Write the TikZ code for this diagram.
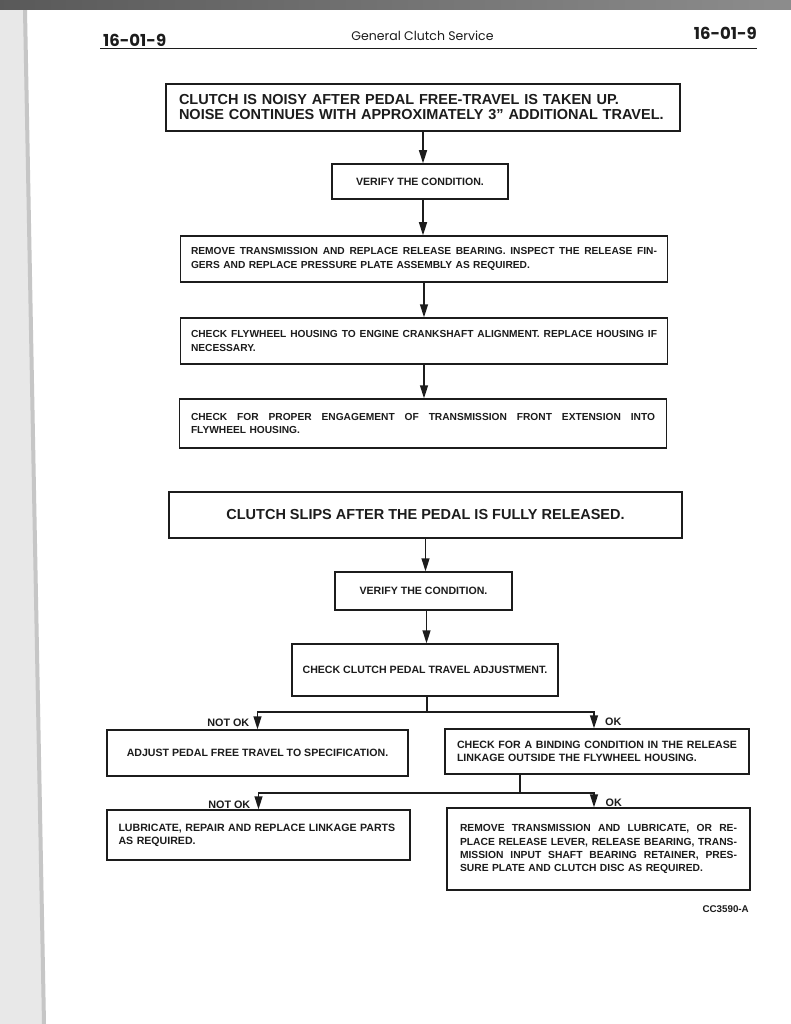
\documentclass[tikz,border=0pt]{standalone}
\usepackage{fontspec}
\setmainfont{Liberation Sans}
\newfontfamily\hdfont{Poppins}
\usetikzlibrary{arrows.meta,calc}
\definecolor{ink}{HTML}{1C1C1C}
\newcommand{\jl}[2]{{\spaceskip=0pt\xspaceskip=0pt\makebox[#1pt][s]{#2}}}
\begin{document}
\begin{tikzpicture}[x=1pt,y=-1pt,
  box/.style={draw=ink, line width=1.5pt, inner sep=0pt, text=ink},
  bigtxt/.style={font=\fontsize{14.5}{15}\selectfont\bfseries},
  smalltxt/.style={font=\fontsize{10.2}{13.2}\selectfont\bfseries},
  midtxt/.style={font=\fontsize{10.6}{13.2}\selectfont\bfseries},
  lbl/.style={font=\fontsize{10.8}{12}\selectfont\bfseries, text=ink, inner sep=0pt},
  conn/.style={draw=ink, line width=1.5pt},
  arr/.style={conn, -{Triangle[length=13pt,width=8pt]}}]
\useasboundingbox (0,0) rectangle (791,1024);
% page surroundings
\fill[white] (0,0) rectangle (791,1024);
\fill[gray!18] (0,0) -- (25,0) -- (45,1024) -- (0,1024) -- cycle;
\draw[gray!45, line width=4pt] (25,10) -- (44,1024);
\shade[left color=black!65, right color=black!45] (0,0) rectangle (791,10);
% header
\node[font=\hdfont\bfseries\fontsize{16.5}{18}\selectfont, anchor=base west, inner sep=0pt, text=ink] (pl) at (103,47) {16-01-9};
\node[font=\hdfont\fontsize{12.5}{14}\selectfont, anchor=base, inner sep=0pt, text=ink] (ttl) at (422.5,41) {General Clutch Service};
\node[font=\hdfont\bfseries\fontsize{16.5}{18}\selectfont, anchor=base east, inner sep=0pt, text=ink] (pr) at (757,40) {16-01-9};
\draw[ink, line width=1.3pt] (100,48.5) -- (757,48.5);
% first chart
\node[box, minimum width=514, minimum height=47, bigtxt, text width=488, align=left] (b1) at (423,107.5)
  {CLUTCH IS NOISY AFTER PEDAL FREE-TRAVEL IS TAKEN UP.\\NOISE CONTINUES WITH APPROXIMATELY 3'' ADDITIONAL TRAVEL.};
\node[box, minimum width=176, minimum height=35, midtxt] (b2) at (420,181.5) {VERIFY THE CONDITION.};
\node[box, minimum width=487, minimum height=46, smalltxt, text width=466, align=left] (b3) at (424,259)
  {\jl{466}{REMOVE TRANSMISSION AND REPLACE RELEASE BEARING. INSPECT THE RELEASE FIN-}\\GERS AND REPLACE PRESSURE PLATE ASSEMBLY AS REQUIRED.};
\node[box, minimum width=487, minimum height=46, smalltxt, text width=466, align=left] (b4) at (424,341)
  {\jl{466}{CHECK FLYWHEEL HOUSING TO ENGINE CRANKSHAFT ALIGNMENT. REPLACE HOUSING IF}\\NECESSARY.};
\node[box, minimum width=487, minimum height=49, smalltxt, text width=464, align=left] (b5) at (423,423.5)
  {\jl{464}{CHECK FOR PROPER ENGAGEMENT OF TRANSMISSION FRONT EXTENSION INTO}\\FLYWHEEL HOUSING.};
\draw[arr] (b1.south) -- (b1.south |- b2.north);
\draw[arr] ([xshift=3pt]b2.south) -- ([xshift=3pt]b2.south |- b3.north);
\draw[arr] (b3.south) -- (b3.south |- b4.north);
\draw[arr] (b4.south) -- (b4.south |- b5.north);
% second chart
\node[box, minimum width=513, minimum height=46, bigtxt] (b6) at (425.5,515) {CLUTCH SLIPS AFTER THE PEDAL IS FULLY RELEASED.};
\node[box, minimum width=177, minimum height=38, midtxt] (b7) at (423.5,591) {VERIFY THE CONDITION.};
\node[box, minimum width=266, minimum height=52, midtxt] (b8) at (425,670) {CHECK CLUTCH PEDAL TRAVEL ADJUSTMENT.};
\node[box, minimum width=301, minimum height=46, midtxt] (b9) at (257.5,753) {ADJUST PEDAL FREE TRAVEL TO SPECIFICATION.};
\node[box, minimum width=304, minimum height=45, midtxt, text width=280, align=left] (b10) at (597,751.5)
  {\jl{280}{CHECK FOR A BINDING CONDITION IN THE RELEASE}\\LINKAGE OUTSIDE THE FLYWHEEL HOUSING.};
\node[box, minimum width=303, minimum height=50, midtxt, text width=280, align=left] (b11) at (258.5,835)
  {LUBRICATE, REPAIR AND REPLACE LINKAGE PARTS\\AS REQUIRED.};
\node[box, minimum width=303, minimum height=82, font=\fontsize{10.3}{13.1}\selectfont\bfseries, text width=277, align=left] (b12) at (598.5,849)
  {\jl{277}{REMOVE TRANSMISSION AND LUBRICATE, OR RE-}\\\jl{277}{PLACE RELEASE LEVER, RELEASE BEARING, TRANS-}\\\jl{277}{MISSION INPUT SHAFT BEARING RETAINER, PRES-}\\SURE PLATE AND CLUTCH DISC AS REQUIRED.};
\draw[arr] (b6.south) -- (b6.south |- b7.north);
\draw[arr] ([xshift=3pt]b7.south) -- ([xshift=3pt]b7.south |- b8.north);
\coordinate (j1) at ($(b8.south)+(2,15)$);
\draw[conn] (j1 |- b8.south) -- (j1);
\draw[arr] (j1) -| (b9.north);
\draw[arr] (j1) -| ([xshift=-3pt]b10.north);
\coordinate (j2) at (520,793);
\draw[conn] (j2 |- b10.south) -- (j2);
\draw[arr] (j2) -| (b11.north);
\draw[arr] (j2) -| ([xshift=-4.5pt]b12.north);
% labels
\node[lbl, anchor=east] (l1) at ($(b9.north)+(-8,-6)$) {NOT OK};
\node[lbl, anchor=west] (l2) at ($(b10.north)+(8,-6)$) {OK};
\node[lbl, anchor=east] (l3) at ($(b11.north)+(-8,-4)$) {NOT OK};
\node[lbl, anchor=west] (l4) at ($(b12.north)+(7,-4)$) {OK};
\node[lbl, font=\fontsize{9.8}{11}\selectfont\bfseries, anchor=east] (cc) at (749,909) {CC3590-A};
\end{tikzpicture}
\end{document}
